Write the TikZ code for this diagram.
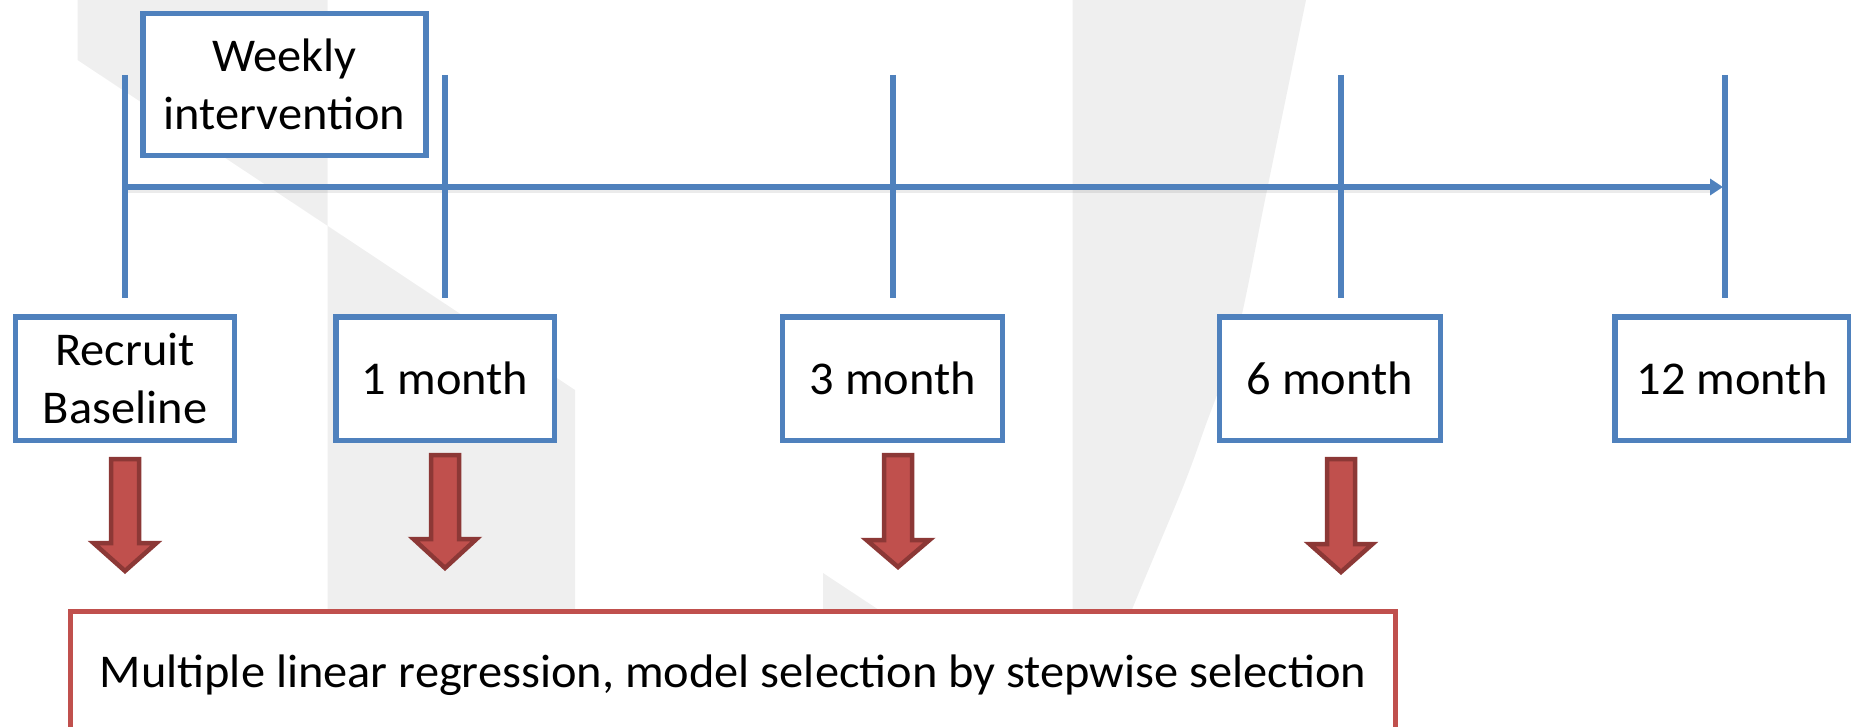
\documentclass[tikz,border=0pt]{standalone}
\usepackage{fontspec}
\setmainfont{Carlito}[FakeStretch=1.03]
\usetikzlibrary{arrows.meta}
\definecolor{tlblue}{RGB}{79,129,189}
\definecolor{boxred}{RGB}{192,80,77}
\definecolor{arrdark}{RGB}{140,56,54}
\definecolor{wmgray}{RGB}{239,239,239}
\begin{document}
\begin{tikzpicture}[x=1pt,y=-1pt,
  wm/.style={fill=wmgray, draw=none},
  lbl/.style={font=\fontsize{47}{58}\selectfont},
  tbox/.style={draw=tlblue, line width=5.5pt, fill=white, inner sep=0pt, minimum height=123.5pt, align=center, lbl},
  oneline/.style={text height=32pt, text depth=0pt},
  tickline/.style={draw=tlblue, line width=5.5pt},
  axisline/.style={draw=tlblue, line width=5.5pt, -{Triangle[length=13pt,width=16pt]}},
  axisshadow/.style={draw=black, opacity=0.08, line width=4pt},
  blockarr/.style={fill=boxred, draw=arrdark, line width=4.5pt, line join=miter},
  resbox/.style={draw=boxred, line width=5pt, fill=white, inner sep=0pt, lbl}
]
\useasboundingbox (0,0) rectangle (1851,727);
\clip (0,0) rectangle (1851,727);

% watermark
\fill[wm] (77.5,0) -- (327.5,0) -- (327.5,225.8) -- (77.5,60) -- cycle;
\fill[wm] (327.5,225.8) -- (575,390) -- (575,727) -- (327.5,727) -- cycle;
\fill[wm] (823,573) -- (1000,690) -- (1000,740) -- (823,740) -- cycle;
\fill[wm] (1072.5,0)
  -- plot[smooth] coordinates {(1306,0) (1267,190) (1237,335) (1205,427) (1183,487) (1133,607) (1085,727)}
  -- (1072.5,727) -- cycle;

% timeline
\coordinate (tlstart) at (125,187);
\coordinate (tlend) at (1723,187);
\coordinate (shstart) at (125,191.5);
\coordinate (shend) at (1710,191.5);
\draw[axisshadow] (shstart) -- (shend);
\draw[axisline] (tlstart) -- (tlend);

% ticks
\foreach \x [count=\i] in {125,445,893,1341,1725} {
  \coordinate (tick\i top) at (\x,75);
  \coordinate (tick\i bot) at (\x,298);
  \draw[tickline] (tick\i top) -- (tick\i bot);
}

% boxes
\node[tbox, minimum width=283pt, minimum height=141.8pt] (weekly) at (284.3,84.65) {Weekly\\intervention};
\node[tbox, minimum width=219pt] (recruit) at (125,378.5) {Recruit\\Baseline};
\node[tbox, oneline, minimum width=218.5pt] (m1) at (445,378.5) {1 month};
\node[tbox, oneline, minimum width=220pt] (m3) at (892.7,378.5) {3 month};
\node[tbox, oneline, minimum width=221pt] (m6) at (1329.8,378.5) {6 month};
\node[tbox, oneline, minimum width=234.5pt] (m12) at (1732,378.5) {12 month};

% block arrows
\foreach \c/\t/\b/\p in {125/459/543/571, 445/455/539/568, 898/455/540/567, 1341/459/544/572} {
  \draw[blockarr] ({\c-14},\t) -- ({\c+14},\t) -- ({\c+14},\b) -- ({\c+31.5},\b)
    -- (\c,\p) -- ({\c-31.5},\b) -- ({\c-14},\b) -- cycle;
}

% result box
\node[resbox, minimum width=1325pt, minimum height=129.5pt, text height=32pt, text depth=10pt] (mlr) at (733,676)
  {Multiple linear regression, model selection by stepwise selection};
\end{tikzpicture}
\end{document}
